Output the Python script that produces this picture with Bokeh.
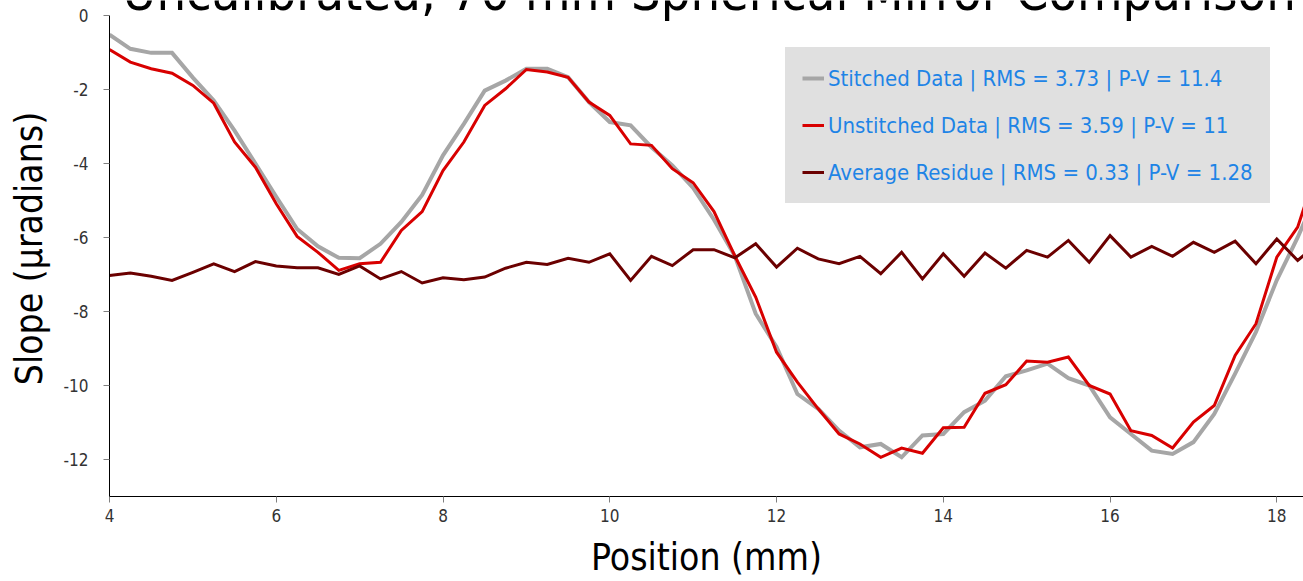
from bokeh.plotting import figure
from bokeh.models import Range1d, Label, Legend, LegendItem, FixedTicker
from bokeh.embed import file_html
from bokeh.resources import INLINE

# ---- data ----
position_mm = [4.0, 4.25, 4.5, 4.75, 5.0, 5.25, 5.5, 5.75, 6.0, 6.25,
               6.5, 6.75, 7.0, 7.25, 7.5, 7.75, 8.0, 8.25, 8.5, 8.75,
               9.0, 9.25, 9.5, 9.75, 10.0, 10.25, 10.5, 10.75, 11.0, 11.25,
               11.5, 11.75, 12.0, 12.25, 12.5, 12.75, 13.0, 13.25, 13.5, 13.75,
               14.0, 14.25, 14.5, 14.75, 15.0, 15.25, 15.5, 15.75, 16.0, 16.25,
               16.5, 16.75, 17.0, 17.25, 17.5, 17.75, 18.0, 18.25, 18.5]

stitched = [-0.52, -0.90, -1.01, -1.01, -1.68, -2.30, -3.11, -4.00, -4.90, -5.77,
            -6.24, -6.55, -6.56, -6.17, -5.58, -4.85, -3.78, -2.93, -2.03, -1.76,
            -1.44, -1.44, -1.67, -2.34, -2.88, -2.97, -3.56, -4.05, -4.66, -5.52,
            -6.50, -8.06, -8.96, -10.23, -10.63, -11.22, -11.67, -11.58, -11.94, -11.35,
            -11.31, -10.72, -10.41, -9.75, -9.59, -9.41, -9.80, -10.00, -10.86, -11.31,
            -11.76, -11.85, -11.53, -10.77, -9.68, -8.55, -7.15, -6.00, -4.70]

unstitched = [-0.92, -1.26, -1.44, -1.56, -1.89, -2.37, -3.42, -4.10, -5.09, -5.97,
              -6.40, -6.89, -6.71, -6.67, -5.81, -5.30, -4.19, -3.42, -2.43, -1.98,
              -1.46, -1.53, -1.67, -2.34, -2.70, -3.47, -3.51, -4.14, -4.52, -5.30,
              -6.50, -7.61, -9.10, -9.91, -10.63, -11.31, -11.58, -11.94, -11.69, -11.83,
              -11.14, -11.13, -10.21, -9.98, -9.34, -9.37, -9.23, -10.00, -10.23, -11.22,
              -11.35, -11.69, -10.99, -10.54, -9.19, -8.33, -6.53, -5.72, -4.00]

residue = [-7.03, -6.96, -7.05, -7.16, -6.94, -6.71, -6.92, -6.65, -6.77, -6.82,
           -6.82, -7.00, -6.77, -7.12, -6.92, -7.23, -7.09, -7.14, -7.07, -6.83,
           -6.67, -6.73, -6.56, -6.67, -6.44, -7.16, -6.51, -6.76, -6.33, -6.33,
           -6.55, -6.17, -6.80, -6.29, -6.58, -6.71, -6.51, -6.98, -6.40, -7.12,
           -6.44, -7.05, -6.42, -6.83, -6.35, -6.53, -6.08, -6.67, -5.95, -6.53,
           -6.24, -6.51, -6.13, -6.40, -6.10, -6.71, -6.04, -6.62, -6.15]

legend_labels = ["Stitched Data | RMS = 3.73 | P-V = 11.4",
                 "Unstitched Data | RMS = 3.59 | P-V = 11",
                 "Average Residue | RMS = 0.33 | P-V = 1.28"]
x_ticks = [4, 6, 8, 10, 12, 14, 16, 18]
y_ticks = [0, -2, -4, -6, -8, -10, -12]
title_text = "Uncalibrated, 70 mm Spherical Mirror Comparison"

FONT = "DejaVu Sans Condensed"

# frame spans the full canvas top; the y axis line stops at 0
p = figure(width=1303, height=581, output_backend="svg", toolbar_location=None,
           x_range=Range1d(4, 18.32), y_range=Range1d(-13, 0.405),
           min_border_left=109, min_border_right=0, min_border_top=0,
           min_border_bottom=85)
p.outline_line_color = None
p.grid.visible = False
p.background_fill_color = "white"
p.border_fill_color = "white"

for ax in (p.xaxis, p.yaxis):
    ax.axis_line_color = "black"
    ax.axis_line_width = 1
    ax.major_tick_line_color = "#7f7f7f"
    ax.major_tick_in = 0
    ax.major_tick_out = 6
    ax.minor_tick_line_color = None
    ax.major_label_text_font = FONT
    ax.major_label_text_font_size = "17px"
    ax.major_label_text_color = "#333333"
    ax.axis_label_text_font = FONT
    ax.axis_label_text_font_size = "37px"
    ax.axis_label_text_font_style = "normal"
    ax.axis_label_text_color = "black"

p.xaxis.ticker = FixedTicker(ticks=x_ticks)
p.yaxis.ticker = FixedTicker(ticks=y_ticks)
p.yaxis.bounds = (-13, 0)
p.yaxis.major_label_overrides = {t: str(t) for t in y_ticks}
p.xaxis.axis_label = "Position (mm)"
p.yaxis.axis_label = "Slope (\u00b5radians)"
p.xaxis.major_label_standoff = 6
p.yaxis.major_label_standoff = 15
p.xaxis.axis_label_standoff = 11
p.yaxis.axis_label_standoff = 10

r1 = p.line(position_mm, stitched, line_color="#a6a6a6", line_width=4, line_join="miter")
r2 = p.line(position_mm, unstitched, line_color="#d80000", line_width=3, line_join="miter")
r3 = p.line(position_mm, residue, line_color="#6b0000", line_width=3, line_join="miter")

legend = Legend(items=[LegendItem(label=legend_labels[0], renderers=[r1]),
                       LegendItem(label=legend_labels[1], renderers=[r2]),
                       LegendItem(label=legend_labels[2], renderers=[r3])],
                location=(676, 293))
legend.background_fill_color = "#e0e0e0"
legend.background_fill_alpha = 1
legend.border_line_color = "#e0e0e0"
legend.border_line_width = 17
legend.label_text_font = FONT
legend.label_text_font_size = "22px"
legend.label_text_color = "#1e84e6"
legend.padding = 0
legend.spacing = 19
legend.label_height = 28
legend.glyph_height = 28
legend.glyph_width = 22
legend.label_standoff = 4
legend.margin = 0
p.add_layout(legend)

title = Label(x=11.19, y=0, y_offset=23, text=title_text, text_align="center",
              text_baseline="alphabetic", text_font=FONT,
              text_font_size="52px", text_color="black")
p.add_layout(title)

open("out.html", "w").write(file_html(p, INLINE))
